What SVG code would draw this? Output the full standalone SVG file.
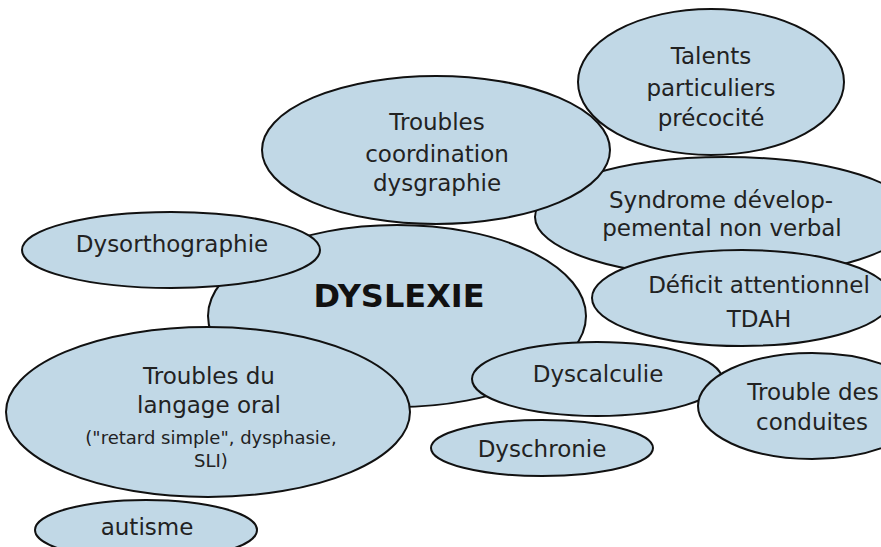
<svg xmlns="http://www.w3.org/2000/svg" width="881" height="547" viewBox="0 0 881 547">
<style>
.n ellipse{fill:#c1d8e6;stroke:#111;stroke-width:2}
text{font-family:"DejaVu Sans",Verdana,sans-serif;font-size:23px;fill:#222;text-anchor:middle}
.b{font-weight:bold;font-size:32px;fill:#111}
.s{font-size:18px}
</style>
<rect width="881" height="547" fill="#fff"/>
<g id="connectors"></g>
<g id="talents" class="n"><ellipse cx="711" cy="82" rx="133" ry="73"/><text x="711" y="64">Talents</text><text x="711" y="96">particuliers</text><text x="711" y="126">précocité</text></g>
<g id="syndrome" class="n"><ellipse cx="725" cy="217" rx="190" ry="60"/><text x="721" y="208">Syndrome dévelop-</text><text x="722" y="236">pemental non verbal</text></g>
<g id="coordination" class="n"><ellipse cx="436" cy="150" rx="174" ry="74"/><text x="437" y="130">Troubles</text><text x="437" y="162">coordination</text><text x="437" y="191">dysgraphie</text></g>
<g id="deficit" class="n"><ellipse cx="742" cy="298" rx="150" ry="48"/><text x="759" y="293">Déficit attentionnel</text><text x="759" y="327">TDAH</text></g>
<g id="dyslexie" class="n"><ellipse cx="397" cy="316" rx="189" ry="91"/><text class="b" x="399" y="307">DYSLEXIE</text></g>
<g id="dysorthographie" class="n"><ellipse cx="171" cy="250" rx="149" ry="38"/><text x="172" y="252">Dysorthographie</text></g>
<g id="langage" class="n"><ellipse cx="208" cy="412" rx="202" ry="85"/><text x="209" y="384">Troubles du</text><text x="209" y="413">langage oral</text><text class="s" x="211" y="444">("retard simple", dysphasie,</text><text class="s" x="211" y="467">SLI)</text></g>
<g id="autisme" class="n"><ellipse cx="146" cy="530" rx="111" ry="30"/><text x="147" y="535">autisme</text></g>
<g id="dyscalculie" class="n"><ellipse cx="597" cy="379" rx="125" ry="37"/><text x="598" y="382">Dyscalculie</text></g>
<g id="dyschronie" class="n"><ellipse cx="542" cy="448" rx="111" ry="28"/><text x="542" y="457">Dyschronie</text></g>
<g id="conduites" class="n"><ellipse cx="812" cy="406" rx="114" ry="53"/><text x="813" y="400">Trouble des</text><text x="812" y="430">conduites</text></g>
</svg>
